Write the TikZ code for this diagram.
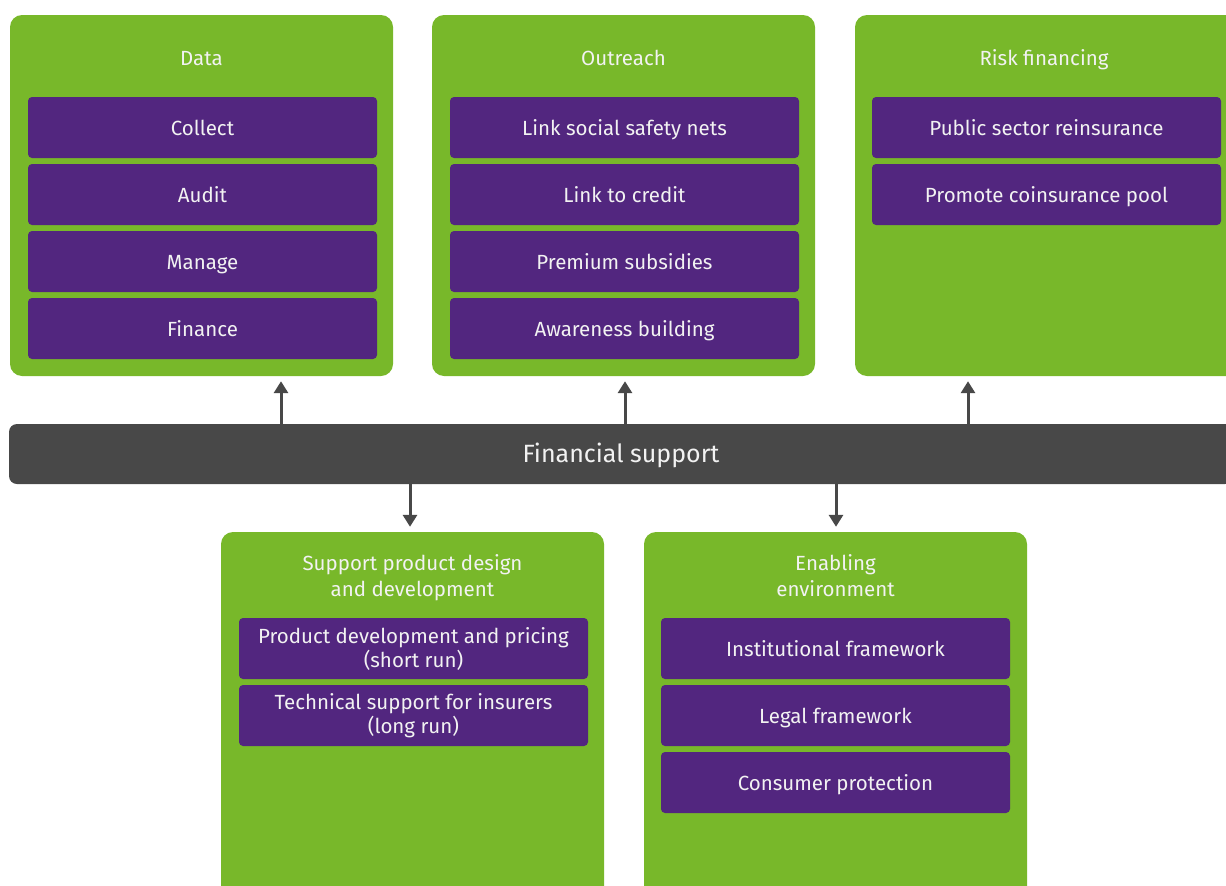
\documentclass[tikz,border=0pt]{standalone}
\usepackage{fontspec}
\setmainfont{Fira Sans}
\usetikzlibrary{arrows.meta}
\definecolor{leaf}{HTML}{78B82A}
\definecolor{plum}{HTML}{52267F}
\definecolor{slate}{HTML}{484848}
\definecolor{paper}{HTML}{F2F2F2}
\tikzset{
  panel/.style={fill=leaf, draw=none, rounded corners=12pt, minimum width=383pt, inner sep=0pt},
  item2/.style={fill=plum, draw=none, rounded corners=4pt, minimum width=349pt, minimum height=61pt,
    inner sep=0pt, text=paper, font=\fontsize{20.5}{24}\selectfont, align=center},
  item/.style={item2, text height=16pt, text depth=1pt},
  ptitle/.style={text=paper, font=\fontsize{20.5}{26}\selectfont, align=center, inner sep=0pt},
  bar/.style={fill=slate, draw=none, rounded corners=8pt, minimum width=1224pt, minimum height=60pt,
    inner sep=0pt, text=paper, font=\fontsize{25}{28}\selectfont},
  arr/.style={draw=slate, line width=3pt, -{Triangle[width=14pt,length=12pt]}, shorten >=5pt}
}
\begin{document}
\begin{tikzpicture}[x=1pt, y=-1pt]
\useasboundingbox (0,0) rectangle (1226,886);
\clip (0,0) rectangle (1226,886);

% upper row of panels
\node[panel, minimum height=361pt] (data) at (201.5,195.5) {};
\node[panel, minimum height=361pt] (outreach) at (623.5,195.5) {};
\node[panel, minimum height=361pt] (risk) at (1046.5,195.5) {};

\node[ptitle, anchor=base] (tdata) at (201.5,65) {Data};
\node[ptitle, anchor=base] (tout) at (623.5,65) {Outreach};
\node[ptitle, anchor=base] (trisk) at (1044,65) {Risk financing};

\node[item] (d1) at (202.5,127.5) {Collect};
\node[item] (d2) at (202.5,194.5) {Audit};
\node[item] (d3) at (202.5,261.5) {Manage};
\node[item] (d4) at (202.5,328.5) {Finance};

\node[item] (o1) at (624.5,127.5) {Link social safety nets};
\node[item] (o2) at (624.5,194.5) {Link to credit};
\node[item] (o3) at (624.5,261.5) {Premium subsidies};
\node[item] (o4) at (624.5,328.5) {Awareness building};

\node[item] (r1) at (1046.5,127.5) {Public sector reinsurance};
\node[item] (r2) at (1046.5,194.5) {Promote coinsurance pool};

% central band
\node[bar, text height=19pt, text depth=2pt] (fs) at (621,454) {Financial support};

% lower row of panels
\node[panel, minimum height=370pt] (design) at (412.5,717) {};
\node[panel, minimum height=370pt] (enable) at (835.5,717) {};

\node[ptitle] (tdesign) at (412.5,578) {Support product design\\and development};
\node[ptitle] (tenable) at (835.5,576) {Enabling\\environment};

\node[item2] (s1) at (413.5,648.5) {Product development and pricing\\(short run)};
\node[item2] (s2) at (413.5,715.5) {Technical support for insurers\\(long run)};

\node[item] (e1) at (835.5,648.5) {Institutional framework};
\node[item] (e2) at (835.5,715.5) {Legal framework};
\node[item] (e3) at (835.5,782.5) {Consumer protection};

% connectors from the band
\coordinate (u1) at (281,0);
\coordinate (u2) at (625,0);
\coordinate (u3) at (968,0);
\coordinate (v1) at (410,0);
\coordinate (v2) at (836,0);
\draw[arr] (fs.north -| u1) -- (data.south -| u1);
\draw[arr] (fs.north -| u2) -- (outreach.south -| u2);
\draw[arr] (fs.north -| u3) -- (risk.south -| u3);
\draw[arr] (fs.south -| v1) -- (design.north -| v1);
\draw[arr] (fs.south -| v2) -- (enable.north -| v2);
\end{tikzpicture}
\end{document}
